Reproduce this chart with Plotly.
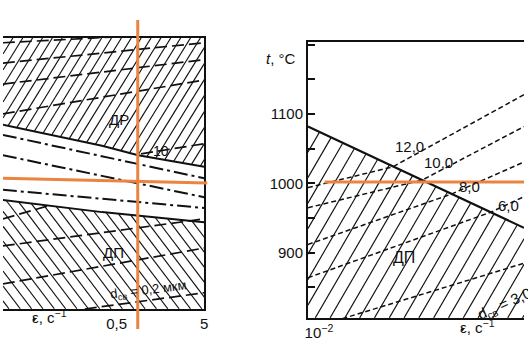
import numpy as np
import plotly.graph_objects as go

W, H = 528, 352

# ---------------- left panel (a): strain rate, s^-1  /  temperature, °C ----------------
LX_RANGE = [-1.6, 0.7]          # log10 of strain rate
LY_RANGE = [800, 1200]
L_tick_vals = [0.5, 5]
L_tick_text = ["0,5", "5"]

L_t2_x = [0.025, 0.34, 0.88, 5.0]          # upper boundary (t2)
L_t2_y = [1072, 1041, 1027, 1010]
L_t1_x = [0.025, 0.34, 5.0]                # lower boundary (t1)
L_t1_y = [961, 943, 928]
L_dd_x = [[0.025, 5.0], [0.025, 5.0], [0.025, 5.0]]          # dash-dot lines
L_dd_y = [[1057, 993], [1027, 965], [976, 949]]
L_up_x = [[0.025, 0.57], [0.025, 5.0], [0.025, 5.0], [0.025, 5.0], [0.95, 5.0]]
L_up_y = [[1193, 1202], [1163, 1193], [1132, 1168], [1088, 1138], [1029, 1044]]
L_lo_x = [[0.025, 0.081], [0.025, 5.0], [0.025, 5.0], [0.216, 5.0]]
L_lo_y = [[933, 952], [893, 933], [837, 890], [800, 824]]

# ---------------- right panel (b) ----------------
RX_RANGE = [-2, 0.5]
RY_RANGE = [806, 1204]
R_tick_vals = [900, 1000, 1100]
R_tick_text = ["900", "1000", "1100"]
R_minor_step = 50
R_bound_x = [0.01, 3.16]
R_bound_y = [1082, 936]
R_iso_labels = ["12,0", "10,0", "8,0", "6,0"]
R_iso_x = [[0.01, 0.096, 3.16], [0.01, 0.211, 3.16], [0.01, 0.464, 3.16], [0.01, 1.33, 3.16]]
R_iso_y = [[994, 1024, 1128], [965, 1005, 1082], [912, 985, 1031], [864, 959, 981]]
R_iso_lab_x = [0.150, 0.321, 0.745, 2.08]
R_iso_lab_y = [1053, 1030, 995, 968]
R_d3_x = [0.025, 3.16]
R_d3_y = [805, 885]

# overlay guide lines (orange)
ORANGE_RATE = 0.87
ORANGE_T_LEFT = [993, 986]
ORANGE_T_RIGHT = 1002

# domains (paper)
L_XDOM = [0.0, 204 / W]
L_YDOM = [1 - 309 / H, 1 - 38 / H]
R_XDOM = [309 / W, 1.0]
R_YDOM = [1 - 318 / H, 1 - 42 / H]

INK = "#111111"
ORANGE = "#EC8340"
FONT = "Liberation Sans, Arial, sans-serif"


def make_tf(xdom, ydom, xr, yr):
    x0p, x1p = xdom[0] * W, xdom[1] * W
    ytop, ybot = (1 - ydom[1]) * H, (1 - ydom[0]) * H

    def to_px(x, T):
        lx = np.log10(np.asarray(x, float))
        px = x0p + (lx - xr[0]) / (xr[1] - xr[0]) * (x1p - x0p)
        py = ytop + (yr[1] - np.asarray(T, float)) / (yr[1] - yr[0]) * (ybot - ytop)
        return px, py

    def to_data(px, py):
        lx = xr[0] + (px - x0p) / (x1p - x0p) * (xr[1] - xr[0])
        T = yr[1] - (py - ytop) / (ybot - ytop) * (yr[1] - yr[0])
        return 10 ** lx, T

    return to_px, to_data, (x0p, x1p, ytop, ybot)


def hatch(tf, top_fn, bot_fn, slope, spacing, d):
    to_px, to_data, (x0p, x1p, ytop, ybot) = tf
    xs = np.arange(x0p, x1p + 0.01, 0.25)
    yt, yb = top_fn(xs), bot_fn(xs)
    cmin = np.min(yt + d * slope * xs)
    cmax = np.max(yb + d * slope * xs)
    ox, oy = [], []
    for c in np.arange(cmin, cmax, slope * spacing):
        y = c - d * slope * xs
        inside = (y >= yt) & (y <= yb)
        if not inside.any():
            continue
        idx = np.where(inside)[0]
        breaks = np.where(np.diff(idx) > 1)[0]
        starts = np.concatenate([[idx[0]], idx[breaks + 1]])
        ends = np.concatenate([idx[breaks], [idx[-1]]])
        for s, e in zip(starts, ends):
            dx0, dy0 = to_data(xs[s], y[s])
            dx1, dy1 = to_data(xs[e], y[e])
            ox += [dx0, dx1, None]
            oy += [dy0, dy1, None]
    return ox, oy


tfL = make_tf(L_XDOM, L_YDOM, LX_RANGE, LY_RANGE)
tfR = make_tf(R_XDOM, R_YDOM, RX_RANGE, RY_RANGE)

fig = go.Figure()


def add_line(x, y, xa, ya, width, dash="solid", color=INK):
    fig.add_trace(go.Scatter(x=x, y=y, xaxis=xa, yaxis=ya, mode="lines",
                             line=dict(color=color, width=width, dash=dash),
                             hoverinfo="skip", showlegend=False))


# ---- hatching ----
t2px = tfL[0](L_t2_x, L_t2_y)
t1px = tfL[0](L_t1_x, L_t1_y)
boxL = tfL[2]
hx, hy = hatch(tfL, lambda xs: np.full_like(xs, boxL[2]),
               lambda xs: np.interp(xs, t2px[0], t2px[1]), 1.6, 10, 1)
add_line(hx, hy, "x", "y", 1.15)
hx, hy = hatch(tfL, lambda xs: np.interp(xs, t1px[0], t1px[1]),
               lambda xs: np.full_like(xs, boxL[3]), 1.3, 11.5, -1)
add_line(hx, hy, "x", "y", 1.15)

bpx = tfR[0](R_bound_x, R_bound_y)
boxR = tfR[2]
hx, hy = hatch(tfR, lambda xs: np.interp(xs, bpx[0], bpx[1]),
               lambda xs: np.full_like(xs, boxR[3]), 1.7, 15, 1)
add_line(hx, hy, "x2", "y2", 1.15)

# ---- left panel lines ----
add_line(L_t2_x, L_t2_y, "x", "y", 2)
add_line(L_t1_x, L_t1_y, "x", "y", 2)
for xx, yy in zip(L_dd_x, L_dd_y):
    add_line(xx, yy, "x", "y", 2, "14px,4px,3px,4px")
for xx, yy in zip(L_up_x, L_up_y):
    add_line(xx, yy, "x", "y", 1.7, "12px,5px")
for xx, yy in zip(L_lo_x, L_lo_y):
    add_line(xx, yy, "x", "y", 1.7, "12px,5px")

# ---- right panel lines ----
add_line(R_bound_x, R_bound_y, "x2", "y2", 2.2)
for xx, yy in zip(R_iso_x, R_iso_y):
    add_line(xx, yy, "x2", "y2", 1.5, "5px,3px")
add_line(R_d3_x, R_d3_y, "x2", "y2", 1.5, "5px,3px")

ann = []


def A(text, x, y, xref, yref, size=15, angle=0, **kw):
    ann.append(dict(text=text, x=x, y=y, xref=xref, yref=yref, showarrow=False,
                    font=dict(family=FONT, size=size, color=INK), textangle=angle, **kw))


lg = np.log10
A("ДР", lg(0.537), 1080, "x", "y")
A("ДП", lg(0.46), 884, "x", "y")
A("10", lg(1.6), 1033, "x", "y", size=14)
A("<i>t</i><sub>2</sub>", lg(6.65), 1002, "x", "y", size=14)
A("<i>t</i><sub>1</sub>", lg(6.65), 921, "x", "y", size=14)
A("d<sub>св</sub> = 0,2 мкм", lg(1.14), 827, "x", "y", size=13, angle=-7)
for lab, xx, yy in zip(R_iso_labels, R_iso_lab_x, R_iso_lab_y):
    A(lab, lg(xx), yy, "x2", "y2")
A("ДП", lg(0.128), 893, "x2", "y2", size=16)
A("d<sub>св</sub> = 3,0", lg(1.87), 826, "x2", "y2", angle=-24)
A("<i>t</i>, °C", 282 / W, 1 - 48 / H, "paper", "paper")
# strain-rate axis titles (epsilon; the dot above is drawn as a small circle)
A("ε, с<sup>−1</sup>", 27 / W, 1 - 328 / H, "paper", "paper", xanchor="left")
A("ε, с<sup>−1</sup>", 461 / W, 1 - 338 / H, "paper", "paper", xanchor="left")
DOTS_PX = [(31.5, 319.5), (465.5, 329.5)]

shapes = [
    dict(type="line", xref="x", yref="paper", x0=ORANGE_RATE, x1=ORANGE_RATE,
         y0=1 - 20 / H, y1=1 - 329 / H, line=dict(color=ORANGE, width=3)),
    dict(type="line", xref="paper", yref="y", x0=0, x1=207 / W,
         y0=ORANGE_T_LEFT[0], y1=ORANGE_T_LEFT[1], line=dict(color=ORANGE, width=3)),
    dict(type="line", xref="paper", yref="y2", x0=326 / W, x1=1,
         y0=ORANGE_T_RIGHT, y1=ORANGE_T_RIGHT, line=dict(color=ORANGE, width=3)),
]
for (dx, dy) in DOTS_PX:
    r = 1.4
    shapes.append(dict(type="circle", xref="paper", yref="paper",
                       x0=(dx - r) / W, x1=(dx + r) / W,
                       y0=1 - (dy + r) / H, y1=1 - (dy - r) / H,
                       fillcolor=INK, line=dict(width=0)))

axfont = dict(family=FONT, size=15, color=INK)
fig.update_layout(
    width=W, height=H, margin=dict(l=0, r=0, t=0, b=0),
    paper_bgcolor="white", plot_bgcolor="white", showlegend=False,
    annotations=ann, shapes=shapes,
    xaxis=dict(type="log", range=LX_RANGE, domain=L_XDOM, anchor="y",
               showline=True, mirror=True, linecolor=INK, linewidth=1.5,
               tickvals=L_tick_vals, ticktext=L_tick_text, ticks="",
               showgrid=False, zeroline=False, tickfont=axfont),
    yaxis=dict(range=LY_RANGE, domain=L_YDOM, anchor="x", side="right",
               showline=True, mirror=False, linecolor=INK, linewidth=1.5,
               showticklabels=False, ticks="", showgrid=False, zeroline=False),
    xaxis2=dict(type="log", range=RX_RANGE, domain=R_XDOM, anchor="y2",
                showline=True, mirror=True, linecolor=INK, linewidth=1.8,
                tickvals=[0.01], ticktext=["10<sup>−2</sup>"], ticks="",
                ticklabelshift=11, showgrid=False, zeroline=False, tickfont=axfont),
    yaxis2=dict(range=RY_RANGE, domain=R_YDOM, anchor="x2",
                showline=True, mirror=False, linecolor=INK, linewidth=1.8,
                tickvals=R_tick_vals, ticktext=R_tick_text, ticks="inside",
                ticklen=7, tickwidth=1.5, tickcolor=INK,
                minor=dict(dtick=R_minor_step, tick0=850, ticks="inside", ticklen=7,
                           tickwidth=1.5, tickcolor=INK, showgrid=False),
                showgrid=False, zeroline=False, tickfont=axfont),
)

fig.write_html("out.html")
